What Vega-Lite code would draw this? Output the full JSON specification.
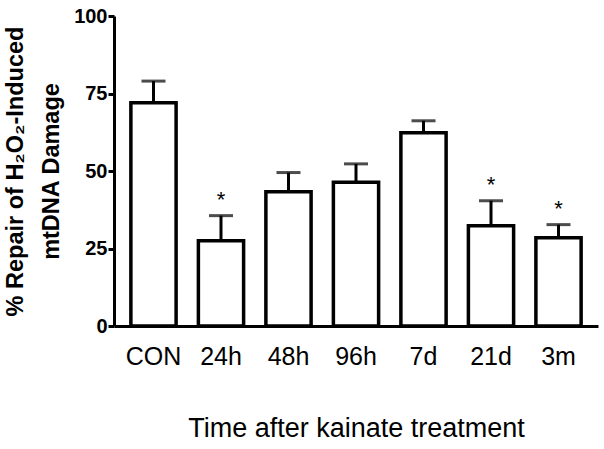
{
  "$schema": "https://vega.github.io/schema/vega-lite/v6.json",
  "width": 484,
  "height": 310,
  "autosize": {"type": "none"},
  "padding": {"left": 114, "top": 16, "right": 6, "bottom": 123},
  "background": "white",
  "config": {
    "font": "Liberation Sans",
    "view": {"stroke": null}
  },
  "data": {
    "values": [
      {"group": "CON", "value": 72.0, "upper": 79.0, "star": ""},
      {"group": "24h", "value": 27.5, "upper": 35.6, "star": "*"},
      {"group": "48h", "value": 43.3, "upper": 49.5, "star": ""},
      {"group": "96h", "value": 46.4, "upper": 52.3, "star": ""},
      {"group": "7d", "value": 62.3, "upper": 66.2, "star": ""},
      {"group": "21d", "value": 32.3, "upper": 40.4, "star": "*"},
      {"group": "3m", "value": 28.5, "upper": 32.7, "star": "*"}
    ]
  },
  "encoding": {
    "x": {
      "field": "group",
      "type": "nominal",
      "sort": null,
      "scale": {"paddingInner": 0.33, "paddingOuter": 0.25},
      "axis": {
        "title": "Time after kainate treatment",
        "titleFont": "Liberation Sans",
        "titleFontSize": 27,
        "titleFontWeight": "normal",
        "titleColor": "black",
        "titlePadding": 46,
        "labelFont": "Liberation Sans",
        "labelFontSize": 25,
        "labelColor": "black",
        "labelAngle": 0,
        "labelPadding": 18,
        "ticks": false,
        "domainColor": "black",
        "domainWidth": 3,
        "grid": false
      }
    }
  },
  "layer": [
    {
      "mark": {"type": "rule", "color": "black", "strokeWidth": 3},
      "encoding": {
        "y": {"field": "value", "type": "quantitative"},
        "y2": {"field": "upper"}
      }
    },
    {
      "mark": {"type": "tick", "color": "black", "thickness": 3, "size": 24, "orient": "horizontal"},
      "encoding": {
        "y": {"field": "upper", "type": "quantitative"}
      }
    },
    {
      "mark": {"type": "bar", "fill": "white", "stroke": "black", "strokeWidth": 3.5},
      "encoding": {
        "y": {
          "field": "value",
          "type": "quantitative",
          "scale": {"domain": [0, 100], "nice": false},
          "axis": {
            "values": [0, 25, 50, 75, 100],
            "title": ["% Repair of H₂O₂-Induced", "mtDNA Damage"],
            "titleFont": "Liberation Sans",
            "titleFontSize": 23.5,
            "titleFontWeight": "bold",
            "titleColor": "black",
            "titleLineHeight": 36,
            "titlePadding": 10,
            "labelFont": "Liberation Sans",
            "labelFontSize": 20,
            "labelFontWeight": "bold",
            "labelColor": "black",
            "labelPadding": 1,
            "tickColor": "black",
            "tickWidth": 3,
            "tickSize": 6,
            "domainColor": "black",
            "domainWidth": 3,
            "grid": false
          }
        }
      }
    },
    {
      "mark": {"type": "text", "fontSize": 22, "font": "Liberation Sans", "color": "black", "baseline": "alphabetic", "dy": -1},
      "encoding": {
        "y": {"field": "upper", "type": "quantitative"},
        "text": {"field": "star"},
        "yOffset": {"value": -8}
      }
    }
  ]
}
